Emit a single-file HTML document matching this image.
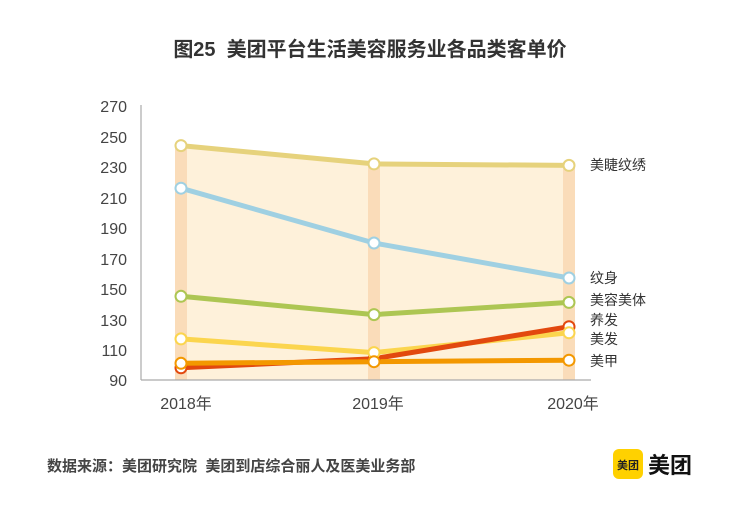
<!DOCTYPE html>
<html><head><meta charset="utf-8"><style>
body{margin:0;background:#fff;}
svg{display:block;font-family:"Liberation Sans","Noto Sans CJK SC",sans-serif;}
</style></head><body>
<svg width="740" height="513" viewBox="0 0 740 513" xmlns="http://www.w3.org/2000/svg">
<text x="370" y="56" text-anchor="middle" font-size="20" font-weight="bold" fill="#333" xml:space="preserve">图25  美团平台生活美容服务业各品类客单价</text>
<polygon points="181,145.6 374,163.9 569,165.4 569,380 181,380" fill="#fef1da"/>
<rect x="175" y="145.6" width="12" height="234.4" fill="#fadcb9"/>
<rect x="368" y="163.9" width="12" height="216.1" fill="#fadcb9"/>
<rect x="563" y="165.4" width="12" height="214.6" fill="#fadcb9"/>
<line x1="141" y1="105" x2="141" y2="380" stroke="#aaa" stroke-width="1.2"/>
<line x1="141" y1="380" x2="591" y2="380" stroke="#aaa" stroke-width="1.2"/>
<g font-size="16" fill="#444" text-anchor="end">
<text x="127" y="112">270</text><text x="127" y="143">250</text><text x="127" y="173">230</text><text x="127" y="204">210</text><text x="127" y="234">190</text><text x="127" y="265">170</text><text x="127" y="295">150</text><text x="127" y="326">130</text><text x="127" y="356">110</text><text x="127" y="386">90</text>
</g>
<g font-size="16" fill="#444" text-anchor="middle">
<text x="186" y="409">2018年</text><text x="378" y="409">2019年</text><text x="573" y="409">2020年</text>
</g>
<g fill="none" stroke-width="5" stroke-linejoin="round">
<polyline points="181,145.6 374,163.9 569,165.4" stroke="#e6d27c"/>
<polyline points="181,188.2 374,243 569,278" stroke="#9fd0e2"/>
<polyline points="181,296.3 374,314.6 569,302.4" stroke="#adc653"/>
<polyline points="181,338.9 374,352.6 569,332.8" stroke="#fbd54e"/>
<polyline points="181,367.8 374,358.7 569,326.7" stroke="#e2480e"/>
<polyline points="181,363.3 374,361.7 569,360.2" stroke="#f39800"/>
</g>
<g fill="#fff" stroke-width="2">
<g stroke="#e6d27c"><circle cx="181" cy="145.6" r="5.5"/><circle cx="374" cy="163.9" r="5.5"/><circle cx="569" cy="165.4" r="5.5"/></g>
<g stroke="#9fd0e2"><circle cx="181" cy="188.2" r="5.5"/><circle cx="374" cy="243" r="5.5"/><circle cx="569" cy="278" r="5.5"/></g>
<g stroke="#adc653"><circle cx="181" cy="296.3" r="5.5"/><circle cx="374" cy="314.6" r="5.5"/><circle cx="569" cy="302.4" r="5.5"/></g>
<g stroke="#e2480e"><circle cx="181" cy="367.8" r="5.5"/><circle cx="374" cy="358.7" r="5.5"/><circle cx="569" cy="326.7" r="5.5"/></g>
<g stroke="#fbd54e"><circle cx="181" cy="338.9" r="5.5"/><circle cx="374" cy="352.6" r="5.5"/><circle cx="569" cy="332.8" r="5.5"/></g>
<g stroke="#f39800"><circle cx="181" cy="363.3" r="5.5"/><circle cx="374" cy="361.7" r="5.5"/><circle cx="569" cy="360.2" r="5.5"/></g>
</g>
<g font-size="14" fill="#333">
<text x="590" y="170">美睫纹绣</text>
<text x="590" y="283">纹身</text>
<text x="590" y="305">美容美体</text>
<text x="590" y="325">养发</text>
<text x="590" y="344">美发</text>
<text x="590" y="366">美甲</text>
</g>
<text x="47" y="471" font-size="15" font-weight="bold" fill="#444" xml:space="preserve">数据来源：美团研究院  美团到店综合丽人及医美业务部</text>
<rect x="613" y="449" width="30" height="30" rx="6" fill="#ffd100"/>
<text x="628" y="469" font-size="11" font-weight="bold" fill="#222" text-anchor="middle">美团</text>
<text x="648" y="473" font-size="22" font-weight="bold" fill="#111">美团</text>
</svg>
</body></html>
